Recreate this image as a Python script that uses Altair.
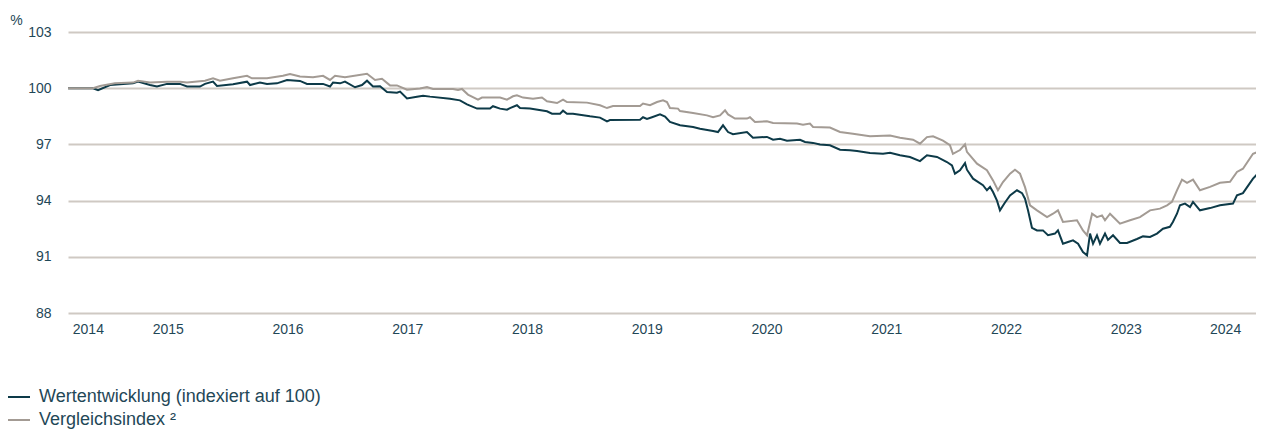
import altair as alt
import pandas as pd

DARK = "#0d3a48"
GRAY = "#a39b94"
GRID = "#cfc9c3"
TEXT = "#1f4757"
FONT = "Liberation Sans"

SERIES_FUND = "Wertentwicklung (indexiert auf 100)"
SERIES_INDEX = "Vergleichsindex ²"

# time in decimal years, value in % (indexed to 100)
fund_t = [2014.667, 2014.876, 2014.918, 2015.018, 2015.210, 2015.252, 2015.352, 2015.410, 2015.494, 2015.602,
          2015.661, 2015.769, 2015.811, 2015.878, 2015.911, 2016.045, 2016.162, 2016.187, 2016.270, 2016.329,
          2016.412, 2016.496, 2016.604, 2016.663, 2016.797, 2016.855, 2016.880, 2016.939, 2016.980, 2017.064,
          2017.122, 2017.164, 2017.214, 2017.273, 2017.331, 2017.414, 2017.440, 2017.498, 2017.581, 2017.632,
          2017.690, 2017.857, 2017.940, 2017.999, 2018.083, 2018.191, 2018.216, 2018.275, 2018.333, 2018.358,
          2018.416, 2018.442, 2018.525, 2018.667, 2018.709, 2018.776, 2018.801, 2018.834, 2018.884, 2019.026,
          2019.110, 2019.168, 2019.193, 2019.444, 2019.469, 2019.502, 2019.544, 2019.611, 2019.653, 2019.694,
          2019.778, 2019.887, 2019.945, 2020.054, 2020.095, 2020.137, 2020.179, 2020.220, 2020.337, 2020.387,
          2020.504, 2020.555, 2020.613, 2020.671, 2020.780, 2020.822, 2020.889, 2020.947, 2021.030, 2021.114,
          2021.197, 2021.256, 2021.364, 2021.473, 2021.532, 2021.615, 2021.698, 2021.782, 2021.840, 2021.924,
          2022.007, 2022.049, 2022.074, 2022.116, 2022.158, 2022.174, 2022.225, 2022.308, 2022.341, 2022.367,
          2022.392, 2022.425, 2022.450, 2022.492, 2022.534, 2022.592, 2022.634, 2022.659, 2022.684, 2022.717,
          2022.759, 2022.809, 2022.851, 2022.909, 2022.934, 2022.976, 2023.018, 2023.060, 2023.102, 2023.143,
          2023.177, 2023.202, 2023.227, 2023.260, 2023.285, 2023.327, 2023.352, 2023.394, 2023.452, 2023.511,
          2023.594, 2023.644, 2023.703, 2023.761, 2023.811, 2023.869, 2023.894, 2023.928, 2023.953, 2023.995,
          2024.037, 2024.062, 2024.120, 2024.204, 2024.287, 2024.396, 2024.429, 2024.479, 2024.563, 2024.596,
          2024.655]
fund_v = [100.0, 100.0, 99.9, 100.17, 100.26, 100.35, 100.17, 100.09, 100.23, 100.23,
          100.09, 100.09, 100.23, 100.35, 100.12, 100.21, 100.35, 100.17, 100.3, 100.23,
          100.26, 100.44, 100.39, 100.23, 100.23, 100.09, 100.3, 100.26, 100.35, 100.05,
          100.17, 100.4, 100.09, 100.1, 99.8, 99.76, 99.82, 99.45, 99.54, 99.6,
          99.55, 99.44, 99.35, 99.14, 98.91, 98.91, 99.04, 98.91, 98.85, 98.94,
          99.09, 98.94, 98.91, 98.77, 98.64, 98.64, 98.8, 98.64, 98.64, 98.5,
          98.43, 98.23, 98.3, 98.32, 98.45, 98.36, 98.45, 98.6, 98.49, 98.2,
          98.02, 97.93, 97.84, 97.71, 97.66, 98.02, 97.66, 97.54, 97.66, 97.36,
          97.4, 97.25, 97.3, 97.2, 97.25, 97.13, 97.08, 96.99, 96.95, 96.72,
          96.69, 96.65, 96.54, 96.5, 96.55, 96.42, 96.33, 96.11, 96.42, 96.33,
          96.06, 95.88, 95.44, 95.62, 96.0, 95.65, 95.17, 94.82, 94.55, 94.73,
          94.46, 94.0, 93.48, 93.9, 94.28, 94.55, 94.4, 94.1, 93.48, 92.55,
          92.41, 92.41, 92.15, 92.24, 92.41, 91.7, 91.79, 91.88, 91.7, 91.25,
          91.08, 92.24, 91.7, 92.15, 91.7, 92.24, 91.9, 92.15, 91.74, 91.74,
          91.95, 92.09, 92.06, 92.24, 92.5, 92.6, 92.86, 93.3, 93.75, 93.84,
          93.66, 93.93, 93.48, 93.6, 93.75, 93.84, 94.28, 94.4, 95.17, 95.4,
          95.4]

index_t = [2014.667, 2014.876, 2014.934, 2015.059, 2015.210, 2015.252, 2015.352, 2015.494, 2015.602, 2015.661,
           2015.811, 2015.878, 2015.936, 2016.045, 2016.162, 2016.203, 2016.329, 2016.462, 2016.521, 2016.604,
           2016.713, 2016.797, 2016.855, 2016.897, 2016.980, 2017.164, 2017.231, 2017.289, 2017.356, 2017.414,
           2017.498, 2017.606, 2017.665, 2017.715, 2017.882, 2017.924, 2017.957, 2018.007, 2018.091, 2018.124,
           2018.275, 2018.333, 2018.383, 2018.416, 2018.467, 2018.550, 2018.625, 2018.667, 2018.751, 2018.801,
           2018.834, 2019.001, 2019.110, 2019.168, 2019.218, 2019.444, 2019.469, 2019.527, 2019.586, 2019.636,
           2019.669, 2019.694, 2019.761, 2019.778, 2019.887, 2020.003, 2020.054, 2020.112, 2020.154, 2020.179,
           2020.237, 2020.337, 2020.362, 2020.404, 2020.504, 2020.555, 2020.755, 2020.805, 2020.863, 2020.889,
           2021.030, 2021.114, 2021.222, 2021.364, 2021.532, 2021.615, 2021.724, 2021.782, 2021.840, 2021.891,
           2021.974, 2022.032, 2022.057, 2022.116, 2022.158, 2022.174, 2022.258, 2022.341, 2022.392, 2022.433,
           2022.475, 2022.534, 2022.575, 2022.617, 2022.659, 2022.701, 2022.759, 2022.843, 2022.893, 2022.934,
           2022.976, 2023.093, 2023.143, 2023.177, 2023.219, 2023.260, 2023.302, 2023.327, 2023.369, 2023.411,
           2023.452, 2023.536, 2023.619, 2023.703, 2023.786, 2023.845, 2023.886, 2023.928, 2023.970, 2024.012,
           2024.062, 2024.120, 2024.204, 2024.287, 2024.371, 2024.429, 2024.479, 2024.563, 2024.621, 2024.655]
index_v = [100.0, 100.0, 100.12, 100.26, 100.3, 100.4, 100.3, 100.35, 100.35, 100.3,
           100.4, 100.53, 100.4, 100.53, 100.66, 100.53, 100.53, 100.66, 100.75, 100.62,
           100.59, 100.66, 100.44, 100.66, 100.59, 100.77, 100.44, 100.5, 100.15, 100.15,
           99.92, 99.98, 100.06, 99.96, 99.96, 99.9, 99.96, 99.66, 99.39, 99.5,
           99.5, 99.39, 99.57, 99.62, 99.5, 99.44, 99.5, 99.3, 99.21, 99.39,
           99.26, 99.23, 99.09, 98.94, 99.05, 99.05, 99.18, 99.09, 99.26, 99.35,
           99.26, 98.94, 98.91, 98.78, 98.68, 98.55, 98.45, 98.55, 98.82, 98.6,
           98.38, 98.38, 98.45, 98.2, 98.23, 98.14, 98.11, 98.05, 98.11, 97.93,
           97.9, 97.66, 97.57, 97.43, 97.48, 97.36, 97.25, 97.04, 97.39, 97.43,
           97.2, 96.96, 96.5, 96.7, 97.0, 96.6, 95.97, 95.62, 95.08, 94.55,
           94.99, 95.44, 95.65, 95.44, 94.72, 93.75, 93.48, 93.12, 93.3, 93.48,
           92.86, 92.95, 92.41, 92.15, 93.3, 93.12, 93.21, 92.95, 93.3, 93.03,
           92.77, 92.95, 93.12, 93.48, 93.57, 93.75, 93.93, 94.55, 95.12, 94.95,
           95.12, 94.55, 94.73, 94.95, 95.0, 95.53, 95.7, 96.5, 96.64, 96.64]

# year labels sit in the middle of each (partial) calendar year
year_label_pos = [2014.833, 2015.5, 2016.5, 2017.5, 2018.5, 2019.5, 2020.5, 2021.5, 2022.5, 2023.5, 2024.33]
y_ticks = [88, 91, 94, 97, 100, 103]
x_domain = [2014.667, 2024.588]
y_domain = [88, 103]

df_fund = pd.DataFrame({"t": fund_t, "v": fund_v, "s": SERIES_FUND})
df_index = pd.DataFrame({"t": index_t, "v": index_v, "s": SERIES_INDEX})

x_enc = alt.X(
    "t:Q",
    scale=alt.Scale(domain=x_domain, nice=False, zero=False),
    axis=alt.Axis(values=year_label_pos, labelExpr="'' + floor(datum.value)", grid=False,
                  domain=False, ticks=False, tickSize=0, labelPadding=9, labelFontSize=14,
                  labelColor=TEXT, labelFont=FONT, title=None, labelFlush=False,
                  labelOverlap=False),
)
y_enc = alt.Y(
    "v:Q",
    scale=alt.Scale(domain=y_domain, nice=False, zero=False),
    axis=alt.Axis(values=y_ticks, grid=True, gridColor=GRID, gridWidth=2, domain=False,
                  ticks=False, tickSize=0, labelPadding=17, labelFontSize=14, labelColor=TEXT,
                  labelFont=FONT, title="%", titleAngle=0, titleX=-52, titleY=-12,
                  titleAlign="center", titleBaseline="middle", titleFontSize=14,
                  titleFontWeight="normal", titleColor=TEXT, titleFont=FONT),
)
color_enc = alt.Color(
    "s:N",
    scale=alt.Scale(domain=[SERIES_FUND, SERIES_INDEX], range=[DARK, GRAY]),
    legend=alt.Legend(title=None, orient="none", legendX=-63, legendY=352, direction="vertical",
                      symbolType="stroke", symbolSize=576, symbolStrokeWidth=2,
                      labelFontSize=18, labelColor=TEXT, labelFont=FONT, labelOffset=8,
                      rowPadding=1, padding=0, labelLimit=600),
)

dark_line = alt.Chart(df_fund).mark_line(strokeWidth=2, clip=True).encode(
    x=x_enc, y=y_enc, color=color_enc)
gray_line = alt.Chart(df_index).mark_line(strokeWidth=2, clip=True).encode(
    x=x_enc, y=y_enc, color=color_enc)

chart = alt.layer(dark_line, gray_line).properties(
    width=1188,
    height=281,
    padding={"left": 60, "top": 24, "right": 0, "bottom": 116},
    autosize=alt.AutoSizeParams(type="none"),
).configure_view(stroke=None)

chart.save("out.html", embed_options={"renderer": "svg", "actions": False})
